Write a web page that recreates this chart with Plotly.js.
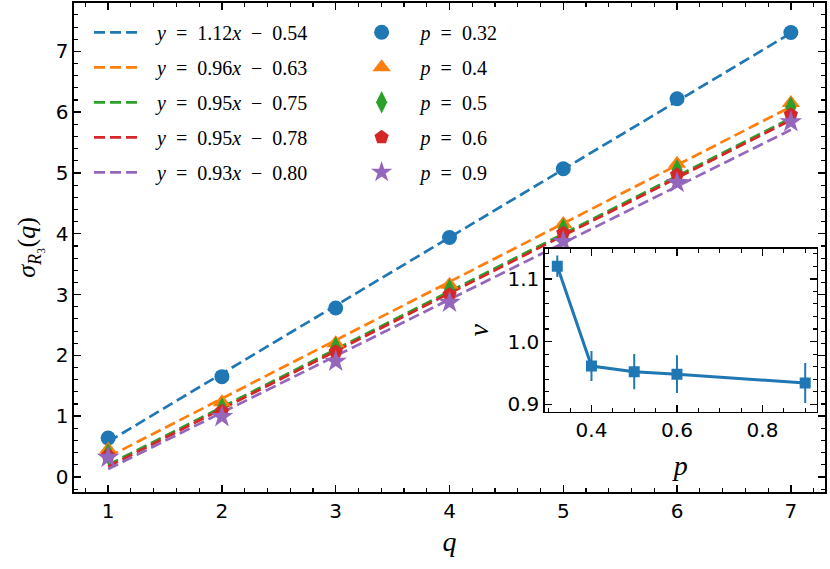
<!DOCTYPE html>
<html>
<head>
<meta charset="utf-8">
<script src="https://cdn.plot.ly/plotly-3.0.1.min.js"></script>
<style>html,body{margin:0;padding:0;background:#fff;}#chart{width:830px;height:569px;}</style>
</head>
<body>
<div id="chart"></div>
<script>
// ---- data ----
const q = [1, 2, 3, 4, 5, 6, 7];
const pLabels = ["0.32", "0.4", "0.5", "0.6", "0.9"];
const sigma032 = [0.64, 1.65, 2.78, 3.94, 5.07, 6.22, 7.31];
const sigma04  = [0.45, 1.23, 2.20, 3.16, 4.16, 5.15, 6.15];
const sigma05  = [0.38, 1.13, 2.13, 3.08, 4.08, 5.05, 6.08];
const sigma06  = [0.35, 1.08, 2.06, 3.00, 4.01, 4.97, 5.96];
const sigma09  = [0.32, 0.99, 1.90, 2.87, 3.87, 4.84, 5.84];
const sigmaErr = [0.04, 0.04, 0.04, 0.04, 0.04, 0.04, 0.04];
const slopes     = [1.12, 0.96, 0.95, 0.95, 0.93];
const intercepts = [-0.54, -0.63, -0.75, -0.78, -0.80];
const slopeLabels     = ["1.12", "0.96", "0.95", "0.95", "0.93"];
const interceptLabels = ["0.54", "0.63", "0.75", "0.78", "0.80"];
const pInset  = [0.32, 0.4, 0.5, 0.6, 0.9];
const nuInset = [1.12, 0.961, 0.952, 0.948, 0.934];
const nuErr   = [0.017, 0.024, 0.028, 0.030, 0.032];
const xTicks = [1, 2, 3, 4, 5, 6, 7];
const yTicks = [0, 1, 2, 3, 4, 5, 6, 7];
const insetXTicks = [0.4, 0.6, 0.8];
const insetYTicks = [0.9, 1.0, 1.1];
const insetYTickLabels = ["0.9", "1.0", "1.1"];

// ---- styles ----
const colors = ["#1f77b4", "#ff7f0e", "#2ca02c", "#d62728", "#9467bd"];
const symbols = ["circle", "triangle-up", "diamond-tall", "pentagon", "star"];
const sizes = [15, 16, 16, 15, 17];
const series = [sigma032, sigma04, sigma05, sigma06, sigma09];
const serif = "Liberation Serif, Times New Roman, serif";
const sans = "DejaVu Sans, sans-serif";
const sp = "\u2002";

const traces = [];
// fit lines
for (let i = 0; i < 5; i++) {
  traces.push({
    x: q, y: q.map(v => slopes[i] * v + intercepts[i]),
    mode: "lines", type: "scatter",
    line: {color: colors[i], width: 2.7, dash: "11px,5px"},
    name: sp + "<i>y</i>" + sp + "=" + sp + slopeLabels[i] + "<i>x</i>" + sp + "−" + sp + interceptLabels[i],
    legend: "legend", legendgroup: "l" + i,
    xaxis: "x", yaxis: "y", hoverinfo: "skip"
  });
}
// data points
for (let i = 0; i < 5; i++) {
  traces.push({
    x: q, y: series[i],
    mode: "markers", type: "scatter",
    marker: {color: colors[i], symbol: symbols[i], size: sizes[i]},
    error_y: {type: "data", array: sigmaErr, color: colors[i], thickness: 2, width: 0},
    name: sp + "<i>p</i>" + sp + "=" + sp + pLabels[i],
    legend: "legend2", legendgroup: "m" + i,
    xaxis: "x", yaxis: "y"
  });
}
// inset
traces.push({
  x: pInset, y: nuInset, mode: "lines+markers", type: "scatter",
  line: {color: "#1f77b4", width: 3},
  marker: {color: "#1f77b4", symbol: "square", size: 11},
  error_y: {type: "data", array: nuErr, color: "#1f77b4", thickness: 2, width: 0},
  showlegend: false, xaxis: "x2", yaxis: "y2"
});

const axBase = {
  showline: true, linecolor: "black", linewidth: 1.6, mirror: "allticks",
  ticks: "inside", ticklen: 7, tickwidth: 1.4, tickcolor: "black",
  showgrid: false, zeroline: false,
  tickfont: {family: sans, size: 20, color: "black"}
};

const layout = {
  width: 830, height: 569,
  margin: {l: 74, r: 5, t: 3, b: 77},
  paper_bgcolor: "white", plot_bgcolor: "white",
  xaxis: Object.assign({}, axBase, {
    domain: [0, 1], range: [0.7, 7.3], tickvals: xTicks, anchor: "y",
    minor: {dtick: 0.2, ticks: "inside", ticklen: 4, tickwidth: 1.1, tickcolor: "black"},
    title: {text: "<i>q</i>", font: {family: serif, size: 28, color: "black"}, standoff: 10}
  }),
  yaxis: Object.assign({}, axBase, {
    domain: [0, 1], range: [-0.247, 7.796], tickvals: yTicks, anchor: "x",
    minor: {dtick: 0.2, ticks: "inside", ticklen: 4, tickwidth: 1.1, tickcolor: "black"},
    title: {text: "<i>σ</i><sub><i>R</i>₃</sub>(<i>q</i>)", font: {family: serif, size: 26, color: "black"}, standoff: 12}
  }),
  xaxis2: Object.assign({}, axBase, {
    domain: [0.627, 0.989], range: [0.291, 0.927], tickvals: insetXTicks, anchor: "y2",
    minor: {dtick: 0.05, ticks: "inside", ticklen: 4, tickwidth: 1.1, tickcolor: "black"},
    title: {text: "<i>p</i>", font: {family: serif, size: 28, color: "black"}, standoff: 14}
  }),
  yaxis2: Object.assign({}, axBase, {
    domain: [0.164, 0.4975], range: [0.888, 1.148], tickvals: insetYTicks, ticktext: insetYTickLabels, anchor: "x2",
    minor: {dtick: 0.02, ticks: "inside", ticklen: 4, tickwidth: 1.1, tickcolor: "black"},
    title: {text: "<i>ν</i>", font: {family: serif, size: 28, color: "black"}, standoff: 10}
  }),
  legend: {
    x: 0.02, y: 0.98, xanchor: "left", yanchor: "top",
    bgcolor: "rgba(0,0,0,0)", borderwidth: 0,
    font: {family: serif, size: 20, color: "black"},
    tracegroupgap: 6, itemwidth: 48
  },
  legend2: {
    x: 0.371, y: 0.98, xanchor: "left", yanchor: "top",
    bgcolor: "rgba(0,0,0,0)", borderwidth: 0,
    font: {family: serif, size: 20, color: "black"},
    tracegroupgap: 6, itemwidth: 48
  },
  showlegend: true
};

Plotly.newPlot("chart", traces, layout, {displayModeBar: false, staticPlot: true});
</script>
</body>
</html>
